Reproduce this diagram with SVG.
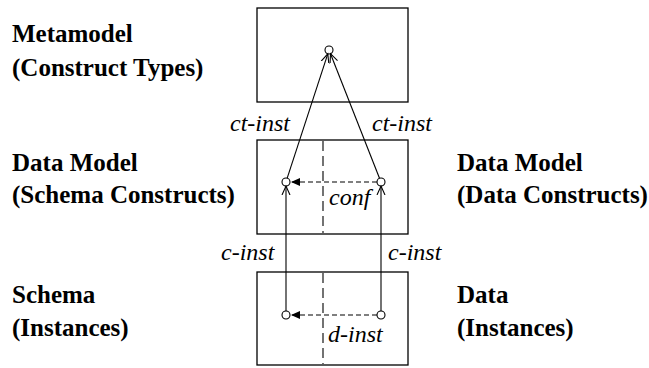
<svg xmlns="http://www.w3.org/2000/svg" width="649" height="368" viewBox="0 0 649 368">
<style>
.box{fill:#fff;stroke:#000;stroke-width:1.3}
.ln{fill:none;stroke:#000;stroke-width:1.1}
.dash{fill:none;stroke:#000;stroke-width:1.1;stroke-dasharray:5,3}
.vdash{fill:none;stroke:#000;stroke-width:1.1;stroke-dasharray:10,5}
.pt{fill:#fff;stroke:#000;stroke-width:1.1}
</style>
<defs>
<marker id="open" markerUnits="userSpaceOnUse" markerWidth="12" markerHeight="12" refX="9" refY="5" orient="auto" viewBox="0 0 12 10">
<path d="M0,1 L9,5 L0,9" fill="none" stroke="#000" stroke-width="1.1"/>
</marker>
<marker id="fill" markerUnits="userSpaceOnUse" markerWidth="12" markerHeight="12" refX="9" refY="5" orient="auto" viewBox="0 0 12 10">
<path d="M0,1 L9,5 L0,9 Z" fill="#000"/>
</marker>
</defs>
<g id="metamodel">
<rect class="box" x="257" y="8" width="151" height="94"/>
<text font-family="Liberation Serif" font-size="25" font-weight="bold" x="12" y="42">Metamodel</text>
<text font-family="Liberation Serif" font-size="25" font-weight="bold" x="12" y="76">(Construct Types)</text>
<circle class="pt" cx="329" cy="50" r="4"/>
</g>
<g id="datamodel">
<rect class="box" x="257" y="140" width="151" height="94"/>
<line class="vdash" x1="323" y1="141" x2="323" y2="233"/>
<text font-family="Liberation Serif" font-size="25" font-weight="bold" x="12" y="171">Data Model</text>
<text font-family="Liberation Serif" font-size="25" font-weight="bold" x="12" y="203">(Schema Constructs)</text>
<text font-family="Liberation Serif" font-size="25" font-weight="bold" x="457" y="171">Data Model</text>
<text font-family="Liberation Serif" font-size="25" font-weight="bold" x="457" y="203">(Data Constructs)</text>
<circle class="pt" cx="286" cy="182" r="4"/>
<circle class="pt" cx="381" cy="182" r="4"/>
</g>
<g id="schema">
<rect class="box" x="257" y="272" width="151" height="93"/>
<line class="vdash" x1="323" y1="273" x2="323" y2="364"/>
<text font-family="Liberation Serif" font-size="25" font-weight="bold" x="12" y="303">Schema</text>
<text font-family="Liberation Serif" font-size="25" font-weight="bold" x="12" y="336">(Instances)</text>
<text font-family="Liberation Serif" font-size="25" font-weight="bold" x="457" y="303">Data</text>
<text font-family="Liberation Serif" font-size="25" font-weight="bold" x="457" y="336">(Instances)</text>
<circle class="pt" cx="286" cy="315" r="4"/>
<circle class="pt" cx="381" cy="315" r="4"/>
</g>
<g id="connectors">
<line class="ln" x1="287.2" y1="178.2" x2="327.8" y2="53.8" marker-end="url(#open)"/>
<line class="ln" x1="379.5" y1="178.3" x2="330.5" y2="53.7" marker-end="url(#open)"/>
<line class="ln" x1="286" y1="311" x2="286" y2="186" marker-end="url(#open)"/>
<line class="ln" x1="381" y1="311" x2="381" y2="186" marker-end="url(#open)"/>
<line class="dash" x1="377" y1="182" x2="291" y2="182" marker-end="url(#fill)"/>
<line class="dash" x1="377" y1="315" x2="291" y2="315" marker-end="url(#fill)"/>
<text font-family="Liberation Serif" font-size="24" font-style="italic" x="230" y="131">ct-inst</text>
<text font-family="Liberation Serif" font-size="24" font-style="italic" x="372" y="131">ct-inst</text>
<text font-family="Liberation Serif" font-size="24" font-style="italic" x="329" y="205">conf</text>
<text font-family="Liberation Serif" font-size="24" font-style="italic" x="221" y="260">c-inst</text>
<text font-family="Liberation Serif" font-size="24" font-style="italic" x="388" y="260">c-inst</text>
<text font-family="Liberation Serif" font-size="24" font-style="italic" x="328" y="342">d-inst</text>
</g>
</svg>
